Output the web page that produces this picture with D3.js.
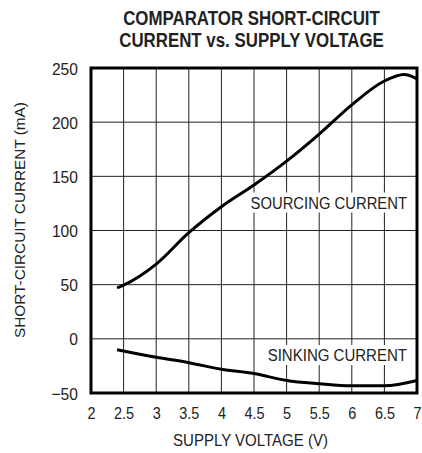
<!DOCTYPE html>
<html><head><meta charset="utf-8">
<script src="https://cdn.jsdelivr.net/npm/d3@7"></script>
<style>body{margin:0;background:#fff}</style>
</head><body>
<svg id="c" width="422" height="453"></svg>
<script>
const xTicks = [2, 2.5, 3, 3.5, 4, 4.5, 5, 5.5, 6, 6.5, 7];
const yTicks = [-50, 0, 50, 100, 150, 200, 250];
const sourcingV = [2.4, 2.5, 2.75, 3.0, 3.5, 4.0, 4.5, 5.0, 5.5, 6.0, 6.5, 6.8, 7.0];
const sourcingI = [47, 49.5, 58, 69, 98, 122, 142, 164, 189, 216, 238, 244, 240];
const sinkingV = [2.4, 3.0, 3.5, 4.0, 4.5, 5.0, 5.5, 6.0, 6.5, 7.0];
const sinkingI = [-10, -17, -22, -28, -32, -38.5, -41.5, -43.4, -43.4, -38.5];
const titleLines = ["COMPARATOR SHORT-CIRCUIT", "CURRENT vs. SUPPLY VOLTAGE"];

const svg = d3.select("#c");
const L = 91, R = 417, T = 68, B = 393;
const x = d3.scaleLinear().domain([2, 7]).range([L, R]);
const y = d3.scaleLinear().domain([-50, 250]).range([B, T]);
const font = "'Liberation Sans', Arial, sans-serif";
const ink = "#222";

function txt(s, cx, cy, opts) {
  const o = Object.assign({ size: 16, k: 0.9, anchor: "middle", weight: "normal", rot: 0, dy: null }, opts);
  return svg.append("text")
    .attr("transform", `translate(${cx},${cy}) rotate(${o.rot}) scale(${o.k},1)`)
    .attr("text-anchor", o.anchor).attr("dy", o.dy)
    .attr("font-family", font).attr("font-size", o.size).attr("font-weight", o.weight)
    .attr("fill", ink).text(s);
}

titleLines.forEach((s, i) => txt(s, 251.5, 25 + i * 21.7, { size: 20.5, k: 0.823, weight: "bold" }));

// grid
svg.append("g").selectAll("line").data(xTicks.slice(1, -1)).join("line")
  .attr("x1", d => x(d)).attr("x2", d => x(d)).attr("y1", T).attr("y2", B)
  .attr("stroke", "#222").attr("stroke-width", 1);
svg.append("g").selectAll("line").data(yTicks.slice(1, -1)).join("line")
  .attr("y1", d => y(d)).attr("y2", d => y(d)).attr("x1", L).attr("x2", R)
  .attr("stroke", "#222").attr("stroke-width", 1);

function boxLabel(s, xl, xr, yc, k) {
  svg.append("rect").attr("x", xl - 2).attr("y", yc - 10).attr("width", xr - xl + 4)
    .attr("height", 20).attr("fill", "#fff");
  txt(s, xr, yc, { size: 17, k: k, anchor: "end", dy: "0.36em" });
}
boxLabel("SOURCING CURRENT", 251, 407, 202.5, 0.873);
boxLabel("SINKING CURRENT", 268, 407, 355, 0.884);

const line = d3.line().x(d => x(d[0])).y(d => y(d[1])).curve(d3.curveMonotoneX);
svg.append("path").datum(sourcingV.map((v, i) => [v, sourcingI[i]]))
  .attr("d", line).attr("fill", "none").attr("stroke", "#000").attr("stroke-width", 3);
svg.append("path").datum(sinkingV.map((v, i) => [v, sinkingI[i]]))
  .attr("d", line).attr("fill", "none").attr("stroke", "#000").attr("stroke-width", 3);

svg.append("rect").attr("x", L).attr("y", T).attr("width", R - L).attr("height", B - T)
  .attr("fill", "none").attr("stroke", "#000").attr("stroke-width", 3);

const fmt = d3.format("~g");
const xAxis = d3.axisBottom(x).tickValues(xTicks).tickSize(0).tickPadding(0).tickFormat(fmt);
const gx = svg.append("g").attr("transform", `translate(0,${B})`).call(xAxis);
gx.select(".domain").remove();
gx.selectAll("text").attr("font-family", font).attr("font-size", 16).attr("fill", ink)
  .attr("y", null).attr("dy", null).attr("transform", "translate(0,26) scale(0.9,1)");
const yAxis = d3.axisLeft(y).tickValues(yTicks).tickSize(0).tickPadding(0).tickFormat(fmt);
const gy = svg.append("g").attr("transform", `translate(${L},0)`).call(yAxis);
gy.select(".domain").remove();
gy.selectAll("text").attr("font-family", font).attr("font-size", 17).attr("fill", ink)
  .attr("x", null).attr("dy", "0.36em").attr("transform", "translate(-13,0) scale(0.92,1)");

txt("SUPPLY VOLTAGE (V)", 250.5, 446, { size: 16.5, k: 0.91 });
txt("SHORT-CIRCUIT CURRENT (mA)", 25, 220, { size: 15.5, k: 0.99, rot: -90 });
</script>
</body></html>
